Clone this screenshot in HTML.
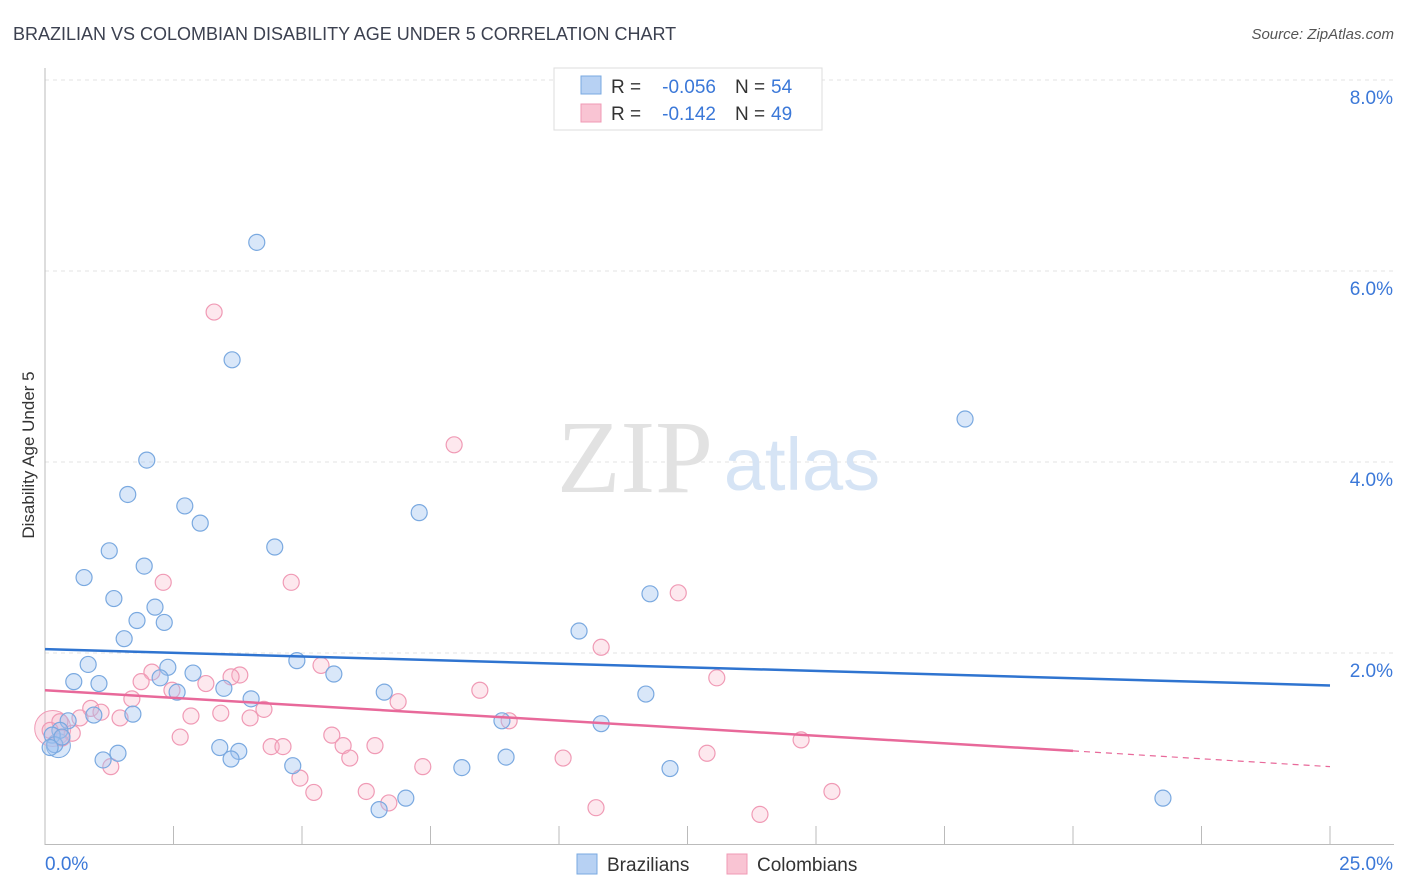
<!DOCTYPE html>
<html><head><meta charset="utf-8"><style>
body{margin:0;background:#fff;font-family:"Liberation Sans",sans-serif}
svg{display:block}
</style></head><body>
<svg id="chart" width="1406" height="892" xmlns="http://www.w3.org/2000/svg" font-family="Liberation Sans, sans-serif">
<text x="13" y="40" font-size="18" fill="#3c4150">BRAZILIAN VS COLOMBIAN DISABILITY AGE UNDER 5 CORRELATION CHART</text>
<text x="1394" y="39" font-size="15" fill="#555" text-anchor="end" font-style="italic">Source: ZipAtlas.com</text>
<g id="grid"></g>
<g>
<text x="635" y="492" font-size="104" fill="#e2e2e2" font-family="Liberation Serif, serif" text-anchor="middle">ZIP</text>
<text x="802" y="490" font-size="74" fill="#d6e4f5" text-anchor="middle">atlas</text>
</g>
<g id="axes"></g>
<g id="pts"></g>
<g id="trend"></g>
<text transform="translate(34,455) rotate(-90)" font-size="17" fill="#333" text-anchor="middle">Disability Age Under 5</text>
<g font-size="19">
<rect x="554" y="68" width="268" height="62" fill="#fff" stroke="#ddd"/>
<rect x="581" y="76" width="20" height="18" fill="#b7d1f3" stroke="#7aa9e0"/>
<rect x="581" y="104" width="20" height="18" fill="#f9c4d3" stroke="#f09ab5"/>
<text x="611" y="93" fill="#333">R =</text>
<text x="716" y="93" fill="#3b78d8" text-anchor="end">-0.056</text>
<text x="735" y="93" fill="#333">N =</text>
<text x="771" y="93" fill="#3b78d8">54</text>
<text x="611" y="120" fill="#333">R =</text>
<text x="716" y="120" fill="#3b78d8" text-anchor="end">-0.142</text>
<text x="735" y="120" fill="#333">N =</text>
<text x="771" y="120" fill="#3b78d8">49</text>
</g>
<g>
<rect x="577" y="854" width="20" height="20" fill="#b7d1f3" stroke="#7aa9e0"/>
<text x="607" y="871" font-size="19" fill="#333">Brazilians</text>
<rect x="727" y="854" width="20" height="20" fill="#f9c4d3" stroke="#f09ab5"/>
<text x="757" y="871" font-size="19" fill="#333">Colombians</text>
</g>
</svg>
<script>
const blueX=[4.12,3.64,17.90,1.98,1.61,2.72,3.02,7.28,1.25,4.47,0.76,1.93,1.34,2.14,1.79,2.32,1.54,10.39,11.77,4.90,0.84,2.39,0.56,1.05,2.88,2.24,5.62,2.57,3.48,4.01,6.60,11.69,0.95,1.71,0.45,8.89,10.82,0.29,0.14,0.19,3.40,3.77,1.42,1.13,3.62,4.82,8.11,8.97,12.16,7.02,6.50,21.75,0.33,0.10];
const blueY=[6.30,5.07,4.45,4.02,3.66,3.54,3.36,3.47,3.07,3.11,2.79,2.91,2.57,2.48,2.34,2.32,2.15,2.23,2.62,1.92,1.88,1.85,1.70,1.68,1.79,1.74,1.78,1.59,1.63,1.52,1.59,1.57,1.35,1.36,1.29,1.29,1.26,1.19,1.14,1.04,1.01,0.97,0.95,0.88,0.89,0.82,0.80,0.91,0.79,0.48,0.36,0.48,1.12,1.01];
const pinkX=[3.29,7.96,2.30,4.79,12.32,10.82,5.37,2.08,3.79,1.87,3.62,3.13,13.07,2.47,8.46,6.87,1.69,0.89,4.26,1.09,2.84,3.42,3.99,1.46,9.03,0.68,0.29,0.53,5.58,2.63,14.71,4.40,4.63,5.80,6.42,5.93,12.88,10.08,7.35,1.28,4.96,5.23,6.25,6.69,15.31,10.72,13.91,0.10,0.33];
const pinkY=[5.57,4.18,2.74,2.74,2.63,2.06,1.87,1.80,1.77,1.70,1.75,1.68,1.74,1.61,1.61,1.49,1.52,1.42,1.41,1.38,1.34,1.37,1.32,1.32,1.29,1.32,1.28,1.16,1.14,1.12,1.09,1.02,1.02,1.03,1.03,0.90,0.95,0.90,0.81,0.81,0.69,0.54,0.55,0.43,0.55,0.38,0.31,1.19,1.11];
const yTicks=[2,4,6,8];
const yTickLabels=["2.0%","4.0%","6.0%","8.0%"];
const xTickVals=[0,2.5,5,7.5,10,12.5,15,17.5,20,22.5,25];
const blueTrend=[2.04,1.66];
const pinkTrend=[1.61,0.975,0.81];
const xs=v=>45+v/25*1285, ys=v=>844-v*95.5;
const NS="http://www.w3.org/2000/svg";
function mk(p,t,a){const e=document.createElementNS(NS,t);for(const k in a)e.setAttribute(k,a[k]);p.appendChild(e);return e;}
const grid=document.getElementById('grid'),axes=document.getElementById('axes'),pts=document.getElementById('pts'),tr=document.getElementById('trend');
yTicks.forEach((v,i)=>{
 const l=mk(grid,'line',{x1:45,x2:1394,y1:ys(v),y2:ys(v),stroke:'#e3e3e3','stroke-dasharray':'4,4'});
 
 
 const t=mk(axes,'text',{x:1393,y:ys(v)+24,'font-size':19,fill:'#3b78d8','text-anchor':'end'});t.textContent=yTickLabels[i];
 
 
});
mk(axes,'line',{x1:45,x2:45,y1:68,y2:845,stroke:'#bbb'});
mk(axes,'line',{x1:45,x2:1394,y1:844.5,y2:844.5,stroke:'#bbb'});
xTickVals.forEach(v=>{const l=mk(axes,'line',{x1:xs(v),x2:xs(v),y1:826,y2:844,stroke:'#bbb'});
 
 });
let t=mk(axes,'text',{x:45,y:870,'font-size':19,fill:'#3b78d8'});t.textContent='0.0%';


t=mk(axes,'text',{x:1393,y:870,'font-size':19,fill:'#3b78d8','text-anchor':'end'});t.textContent='25.0%';


let c=mk(pts,'circle',{cx:xs(0.15),cy:ys(1.21),r:18,fill:'rgba(248,180,200,0.35)',stroke:'#f09ab5'});


c=mk(pts,'circle',{cx:xs(0.26),cy:ys(1.03),r:12,fill:'rgba(160,196,240,0.4)',stroke:'#7aa9e0'});


pinkX.forEach((x,i)=>{const e=mk(pts,'circle',{cx:xs(x),cy:ys(pinkY[i]),r:8,fill:'rgba(248,180,200,0.3)',stroke:'#f09ab5','stroke-width':1.2});
 
 });
blueX.forEach((x,i)=>{const e=mk(pts,'circle',{cx:xs(x),cy:ys(blueY[i]),r:8,fill:'rgba(160,196,240,0.4)',stroke:'#7aa9e0','stroke-width':1.2});
 
 });
let l=mk(tr,'line',{x1:xs(0),y1:ys(blueTrend[0]),x2:xs(25),y2:ys(blueTrend[1]),stroke:'#2f74d0','stroke-width':2.5});


l=mk(tr,'line',{x1:xs(0),y1:ys(pinkTrend[0]),x2:xs(20),y2:ys(pinkTrend[1]),stroke:'#e8699a','stroke-width':2.5});


l=mk(tr,'line',{x1:xs(20),y1:ys(pinkTrend[1]),x2:xs(25),y2:ys(pinkTrend[2]),stroke:'#e8699a','stroke-width':1.2,'stroke-dasharray':'6,5'});


</script>
</body></html>
